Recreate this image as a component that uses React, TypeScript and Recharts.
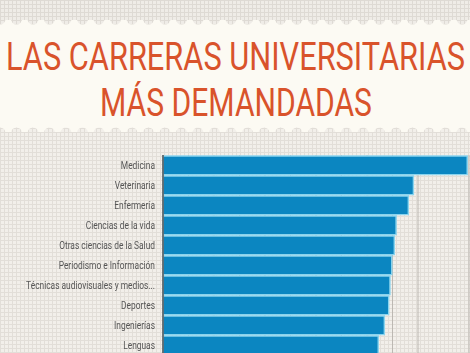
import React from 'react';
import { BarChart, Bar, XAxis, YAxis, CartesianGrid } from 'recharts';

const categories = [
  'Medicina',
  'Veterinaria',
  'Enfermería',
  'Ciencias de la vida',
  'Otras ciencias de la Salud',
  'Periodismo e Información',
  'Técnicas audiovisuales y medios...',
  'Deportes',
  'Ingenierías',
  'Lenguas',
];
const values = [11.93, 9.82, 9.62, 9.14, 9.07, 8.97, 8.9, 8.85, 8.68, 8.44];
const xTicks = [0, 1, 2, 3, 4, 5, 6, 7, 8, 9, 10, 11, 12];
const titleLines = ['LAS CARRERAS UNIVERSITARIAS', 'MÁS DEMANDADAS'];

const data = categories.map((name, i) => ({ name, value: values[i] }));

const W = 470;
const H = 353;

function Background() {
  const bumps: number[] = [];
  for (let x = 0; x <= W + 17; x += 16.5) bumps.push(x);
  return (
    <svg width={W} height={H} style={{ position: 'absolute', left: 0, top: 0 }}>
      <defs>
        <pattern id="gridpat" width="4" height="4" patternUnits="userSpaceOnUse">
          <rect width="4" height="4" fill="#f2efea" />
          <path d="M0 0.5 H4 M0.5 0 V4" stroke="#e2ded8" strokeWidth="1" />
        </pattern>
        <pattern id="gridpat2" width="4" height="4" patternUnits="userSpaceOnUse">
          <rect width="4" height="4" fill="#efece7" />
          <path d="M0 0.5 H4 M0.5 0 V4" stroke="#dedad4" strokeWidth="1" />
        </pattern>
      </defs>
      <rect x={0} y={0} width={W} height={H} fill="url(#gridpat)" />
      <rect x={0} y={0} width={W} height={30} fill="url(#gridpat2)" />
      <rect x={0} y={20} width={W} height={112} fill="#fcfaf3" />
      {bumps.map((x, i) => (
        <circle key={'t' + i} cx={x} cy={19} r={5.5} fill="url(#gridpat2)" />
      ))}
      {bumps.map((x, i) => (
        <circle key={'b' + i} cx={x} cy={133} r={5.5} fill="url(#gridpat)" />
      ))}
      <text
        x={6}
        y={70}
        textLength={459}
        lengthAdjust="spacingAndGlyphs"
        fill="#d9532b"
        style={{ fontFamily: 'Roboto', fontSize: 39, fontWeight: 400 }}
      >
        {titleLines[0]}
      </text>
      <text
        x={100}
        y={116}
        textLength={272}
        lengthAdjust="spacingAndGlyphs"
        fill="#d9532b"
        style={{ fontFamily: 'Roboto', fontSize: 39, fontWeight: 400 }}
      >
        {titleLines[1]}
      </text>
    </svg>
  );
}

const SCALE_X = 0.73;

function CategoryTick(props: any) {
  const { x, y, payload } = props;
  return (
    <g transform={`translate(${x},${y})`}>
      <text
        x={0}
        y={0}
        dy={4}
        textAnchor="end"
        fill="#555555"
        transform={`scale(${SCALE_X},1)`}
        style={{ fontFamily: 'Roboto', fontSize: 11.5 }}
      >
        {payload.value}
      </text>
    </g>
  );
}

export default function App() {
  return (
    <div
      style={{
        position: 'fixed',
        left: 0,
        top: 0,
        width: W,
        height: H,
        overflow: 'hidden',
      }}
    >
      <Background />
      <div style={{ position: 'absolute', left: 0, top: 0 }}>
        <BarChart
          width={W}
          height={360}
          data={data}
          layout="vertical"
          margin={{ top: 155, right: 1, bottom: 5, left: 0 }}
        >
          <CartesianGrid horizontal={false} vertical={true} stroke="#bcb8b2" strokeWidth={1} />
          <XAxis type="number" domain={[0, 12]} ticks={xTicks} hide />
          <YAxis
            type="category"
            dataKey="name"
            width={163}
            interval={0}
            tickLine={false}
            axisLine={{ stroke: '#555555', strokeWidth: 1.5 }}
            tick={<CategoryTick />}
          />
          <Bar
            dataKey="value"
            fill="#0b86c1"
            stroke="#8ad4ee"
            strokeWidth={1.4}
            barSize={18.6}
            isAnimationActive={false}
          />
        </BarChart>
      </div>
    </div>
  );
}
